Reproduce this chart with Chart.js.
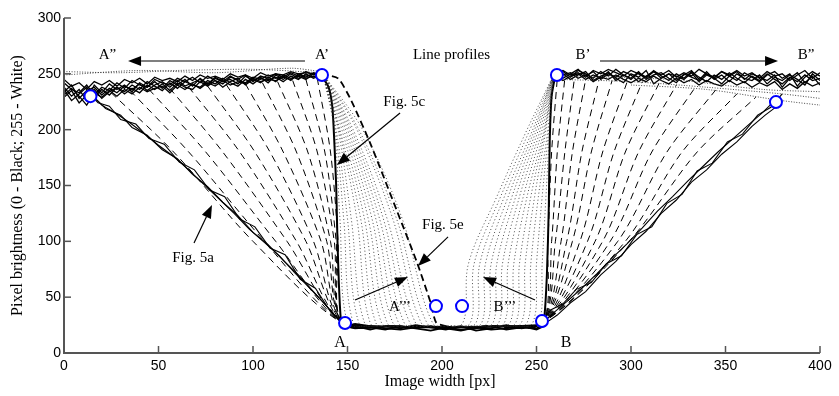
<!DOCTYPE html>
<html lang="en">
<head>
<meta charset="UTF-8">
<title>Line profiles</title>
<script src="https://cdn.jsdelivr.net/npm/chart.js"></script>
<style>body{margin:0;background:#fff}</style>
</head>
<body>
<canvas id="profileChart" width="839" height="396"></canvas>
<script>
// axis ticks
const xTicks = [0, 50, 100, 150, 200, 250, 300, 350, 400];
const yTicks = [0, 50, 100, 150, 200, 250, 300];

// noisy top plateau, left side
const leftBandX = [0,4,8,12,16,20,24,28,32,36,40,44,48,52,56,60,64,68,72,76,80,84,88,92,96,100,104,108,112,116,120,124,128,132,136];
const leftBand1 = [238,230,236,226,240,233,241,236,240,234,242,238,243,237,244,240,245,239,246,241,247,243,245,241,248,244,247,242,249,245,250,246,249,247,250];
const leftBand2 = [242,236,233,240,231,238,235,242,237,244,240,238,245,242,240,246,243,247,242,248,244,241,247,245,249,243,248,246,250,247,251,248,252,249,250];
const leftBand3 = [234,240,228,235,238,231,237,233,239,236,241,235,240,243,238,244,239,242,245,240,246,243,248,244,242,247,245,249,246,248,244,250,247,251,249];
const leftBand4 = [229,235,224,231,236,228,234,238,232,237,233,240,236,241,235,242,238,236,243,239,244,238,243,246,240,245,242,247,243,249,246,248,245,250,248];
const leftBand5 = [245,239,242,236,243,240,244,239,245,242,246,241,247,244,246,243,248,244,249,246,248,245,250,247,249,246,251,248,250,249,252,250,251,250,251];
const leftBand6 = [236,226,232,238,229,236,231,238,234,240,236,243,239,235,242,237,243,240,238,244,241,246,242,239,245,241,246,244,247,243,248,245,250,246,249];
const leftBand7 = [231,237,230,222,233,229,235,230,236,232,238,234,237,239,233,240,236,241,237,242,239,244,240,243,241,246,243,245,244,247,245,249,246,248,247];

// noisy top plateau, right side
const rightBandX = [260,264,268,272,276,280,284,288,292,296,300,304,308,312,316,320,324,328,332,336,340,344,348,352,356,360,364,368,372,376,380,384,388,392,396,400];
const rightBand1 = [249,252,247,253,250,246,252,248,254,249,245,251,247,253,248,244,250,246,252,247,243,249,245,251,246,242,248,244,250,245,241,247,243,249,244,246];
const rightBand2 = [251,246,250,254,248,252,245,250,247,252,249,243,248,252,246,250,244,249,253,245,250,246,252,248,244,251,247,243,249,252,246,250,239,247,252,248];
const rightBand3 = [247,250,245,249,252,244,248,251,246,242,250,247,253,241,246,250,248,245,251,243,249,246,241,248,252,245,250,247,244,249,238,246,251,242,248,240];
const rightBand4 = [250,253,249,251,247,253,250,254,251,248,253,250,246,252,249,253,247,251,248,254,250,247,252,249,253,248,251,246,252,248,250,244,249,253,246,251];
const rightBand5 = [246,249,251,246,249,243,247,245,249,245,242,246,243,248,244,241,246,242,245,240,244,241,239,244,240,243,238,242,239,243,236,241,237,243,239,242];
const rightBand6 = [248,244,248,250,245,249,246,252,244,249,246,252,245,249,251,246,242,250,247,244,252,245,249,243,250,246,244,249,241,247,244,249,245,240,250,244];

// bottom of the groove
const bottomX = [146,154,162,170,178,186,194,202,210,218,226,234,242,250,255];
const bottom1 = [25,22,23,21,24,22,20,23,21,22,24,21,23,22,26];
const bottom2 = [27,24,21,24,22,25,23,21,24,20,22,25,22,24,28];
const bottom3 = [23,26,24,22,21,23,24,22,20,23,21,22,24,21,25];

// Fig. 5a envelopes (widest profiles)
const leftEdge1 = [[14,232],[20,222],[28,214],[35,206],[42,197],[50,186],[58,176],[66,164],[74,151],[82,138],[90,125],[98,111],[106,99],[114,87],[122,72],[130,58],[138,44],[144,32],[148,25]];
const leftEdge2 = [[16,229],[22,219],[30,213],[36,202],[44,195],[52,182],[60,174],[68,160],[76,149],[84,135],[92,123],[100,108],[108,97],[116,83],[124,70],[132,55],[140,40],[146,29]];
const leftEdge3 = [[12,235],[18,224],[24,221],[30,209],[38,205],[45,192],[53,187],[61,171],[69,164],[77,146],[85,140],[93,120],[101,113],[109,94],[117,88],[125,66],[133,58],[141,37],[147,27]];
const rightEdge1 = [[254,28],[259,36],[266,46],[274,58],[282,71],[290,85],[298,98],[306,112],[314,127],[322,140],[330,154],[338,167],[346,180],[354,192],[362,204],[370,216],[376,226]];
const rightEdge2 = [[255,27],[261,34],[268,45],[276,55],[284,70],[292,82],[300,97],[308,109],[316,125],[324,137],[332,153],[340,164],[348,178],[356,189],[364,203],[371,213],[378,222]];
const rightEdge3 = [[253,29],[258,39],[264,44],[271,57],[279,63],[287,80],[295,87],[303,106],[311,113],[319,134],[327,142],[335,163],[343,170],[351,189],[359,196],[367,213],[374,220],[380,232]];

// dashed profiles, left side: top point and x at y=180 / y=100
const leftDashTop = [25,35,45,56,66,76,86,96,105,113,121,128,134];
const leftDashTopY = [233,235,236,237,238,239,240,241,242,243,244,245,246];
const leftDashAt180 = [58,66,75,84,93,101,109,116,123,129,134,138,141];
const leftDashAt100 = [100,106,112,118,123,128,132,136,139,141,143,144,145];

// dashed profiles, right side
const rightDashTop = [261,265,270,276,283,290,298,306,315,324,334,345,356,366];
const rightDashTopY = [246,246,245,245,244,244,243,243,242,240,238,236,232,229];
const rightDashAt180 = [258,261,265,269,274,279,285,291,297,304,311,319,327,335];
const rightDashAt100 = [256,258,260,263,266,269,273,277,281,285,289,293,297,299];

// Fig. 5c (solid) and Fig. 5e (thick dashed)
const solidProfile = [[136,249],[140,238],[142,220],[143,190],[144,150],[144.7,100],[145.5,60],[146.5,30],[148,25],[200,23],[252,25],[254,30],[255.5,70],[256.5,130],[257,190],[258,230],[260,249]];
const fig5eProfile = [[136,250],[145,246],[152,226],[162,188],[176,128],[187,80],[194,45],[197,27],[205,23]];

// dotted profiles, left: bottom x and x at y=200 / y=120
const leftDotBottom = [150,153,156,159,162,165,168,171,174,177,180,183,186,189,192,195];
const leftDotAt200 = [143,143.5,144,145,145.5,146,147,148,149,150,151,152,153,155,156,158];
const leftDotAt120 = [146,148,150,152,155,157,159,161,163,165,167,169,171,174,176,179];

// dotted profiles, right: bottom x and x at y=80 / 140 / 200
const rightDotBottom = [251,248,245,242,239,236,233,230,227,224,221,218,215,211];
const rightDotAt80 = [253,250,247,244,241,238,235,232,229,226,223,220,217,214];
const rightDotAt140 = [255,253,251,249,247,245,243,241,239,237,235,233,231,229];
const rightDotAt200 = [257,256.5,256,255,254.5,254,253,252,251,250,249,248,246.5,245];

// dotted plateau speckle
const leftDotPlateau1 = [[0,252],[30,251],[60,253],[100,254],[136,251]];
const leftDotPlateau2 = [[0,249],[40,253],[80,251],[120,255],[136,252]];
const rightDotPlateau1 = [[262,245],[300,243],[340,238],[380,232],[400,228]];
const rightDotPlateau2 = [[262,248],[320,245],[370,236],[400,234]];
const rightDotPlateau3 = [[300,240],[340,236],[380,226],[400,222]];

// marked points (blue circles)
const markX = [14, 136.5, 260.8, 376.7, 148.7, 252.9, 196.8, 210.6];
const markY = [230, 249, 249, 224.7, 26.9, 28.6, 42, 42];

const pts = arr => arr.map(p => ({x: p[0], y: p[1]}));
const zip = (xs, ys) => xs.map((x, i) => ({x: x, y: ys[i]}));

function lineSet(data, width, dash, color, tension) {
    return {
        data: data, showLine: true, pointRadius: 0, fill: false,
        borderColor: color || '#000', borderWidth: width, borderDash: dash || [],
        tension: tension || 0, order: 1
    };
}

const datasets = [];
datasets.push({
    data: zip(markX, markY), showLine: false, pointRadius: 6, pointStyle: 'circle',
    pointBackgroundColor: '#fff', pointBorderColor: '#0000ff', pointBorderWidth: 2, order: -1
});

// dotted (under)
leftDotBottom.forEach((xb, i) => {
    datasets.push(lineSet(pts([[137,250],[leftDotAt200[i],200],[leftDotAt120[i],120],[xb,27],[xb+12,24]]), 0.8, [1,2.5], '#222', 0.35));
});
rightDotBottom.forEach((xb, i) => {
    datasets.push(lineSet(pts([[xb-12,24],[xb,27],[rightDotAt80[i],80],[rightDotAt140[i],140],[rightDotAt200[i],200],[259,249]]), 0.8, [1,2.5], '#222', 0.35));
});
[leftDotPlateau1, leftDotPlateau2, rightDotPlateau1, rightDotPlateau2, rightDotPlateau3].forEach(p => datasets.push(lineSet(pts(p), 0.9, [1,1.6], '#333', 0.3)));

// dashed fan
leftDashTop.forEach((xt, i) => {
    datasets.push(lineSet(pts([[xt,leftDashTopY[i]],[leftDashAt180[i],180],[leftDashAt100[i],100],[147,27],[175,24],[205,23]]), 1, [7,5], '#000', 0.3));
});
rightDashTop.forEach((xt, i) => {
    datasets.push(lineSet(pts([[195,23],[225,24],[253,27],[rightDashAt100[i],100],[rightDashAt180[i],180],[xt,rightDashTopY[i]]]), 1, [7,5], '#000', 0.3));
});

// envelopes, bands
[leftEdge1, leftEdge2, leftEdge3, rightEdge1, rightEdge2, rightEdge3].forEach(e => datasets.push(lineSet(pts(e), 1.1, [])));
[leftBand1, leftBand2, leftBand3, leftBand4, leftBand5, leftBand6, leftBand7].forEach(b => datasets.push(lineSet(zip(leftBandX, b), 1.3, [])));
[rightBand1, rightBand2, rightBand3, rightBand4, rightBand5, rightBand6].forEach(b => datasets.push(lineSet(zip(rightBandX, b), 1.3, [])));
[bottom1, bottom2, bottom3].forEach(b => datasets.push(lineSet(zip(bottomX, b), 1.8, [])));

datasets.push(lineSet(pts(solidProfile), 2, [], '#000', 0.2));
datasets.push(lineSet(pts(fig5eProfile), 1.8, [7,4], '#000', 0.2));

// labels and arrows, positioned in data units
const labels = [
    {t: 'Line profiles', x: 205, y: 267, size: 15},
    {t: 'A\u201D', x: 23, y: 267, size: 15},
    {t: 'A\u2019', x: 136.5, y: 267, size: 15},
    {t: 'B\u2019', x: 274.6, y: 267, size: 15},
    {t: 'B\u201D', x: 392.6, y: 267, size: 15},
    {t: 'Fig. 5c', x: 180, y: 225, size: 15},
    {t: 'Fig. 5e', x: 200.5, y: 114.6, size: 15},
    {t: 'Fig. 5a', x: 68.3, y: 85, size: 15},
    {t: 'A\u2019\u2019\u2019', x: 177.8, y: 41, size: 15},
    {t: 'B\u2019\u2019\u2019', x: 233.3, y: 41, size: 15},
    {t: 'A', x: 146, y: 9, size: 16},
    {t: 'B', x: 265.6, y: 9, size: 16}
];
const arrows = [
    [127.5, 261.5, 33.9, 261.5],
    [283.6, 261.5, 377.8, 261.5],
    [177.8, 215, 144.4, 168.4],
    [203.2, 104, 187.3, 78],
    [68.8, 98.5, 78.3, 132.5],
    [154, 47.5, 182, 68],
    [249.2, 47.5, 221.7, 68]
];

const decor = {
    id: 'decor',
    afterDraw(chart) {
        const c = chart.ctx, xs = chart.scales.x, ys = chart.scales.y, a = chart.chartArea;
        c.save();
        // axes with inward ticks
        c.strokeStyle = '#555';
        c.lineWidth = 2;
        c.beginPath();
        c.moveTo(a.left, a.top); c.lineTo(a.left, a.bottom); c.lineTo(a.right, a.bottom);
        c.stroke();
        c.lineWidth = 1.5;
        xTicks.forEach(v => { const px = xs.getPixelForValue(v); c.beginPath(); c.moveTo(px, a.bottom); c.lineTo(px, a.bottom - 7); c.stroke(); });
        yTicks.forEach(v => { const py = ys.getPixelForValue(v); c.beginPath(); c.moveTo(a.left, py); c.lineTo(a.left + 7, py); c.stroke(); });
        // axis titles
        c.fillStyle = '#000';
        c.font = "16px 'Liberation Serif'";
        c.textAlign = 'center'; c.textBaseline = 'middle';
        c.fillText('Image width [px]', (a.left + a.right) / 2 - 2, 382);
        c.save();
        c.translate(18, (a.top + a.bottom) / 2);
        c.rotate(-Math.PI / 2);
        c.fillText('Pixel brightness (0 - Black; 255 - White)', 0, 0);
        c.restore();
        // annotations
        labels.forEach(l => {
            c.font = l.size + "px 'Liberation Serif'";
            c.fillText(l.t, xs.getPixelForValue(l.x), ys.getPixelForValue(l.y));
        });
        c.strokeStyle = '#000'; c.fillStyle = '#000'; c.lineWidth = 1.2;
        arrows.forEach(r => {
            const x1 = xs.getPixelForValue(r[0]), y1 = ys.getPixelForValue(r[1]);
            const x2 = xs.getPixelForValue(r[2]), y2 = ys.getPixelForValue(r[3]);
            const ang = Math.atan2(y2 - y1, x2 - x1), hl = 13, hw = 5;
            const bx = x2 - hl * Math.cos(ang), by = y2 - hl * Math.sin(ang);
            c.beginPath(); c.moveTo(x1, y1); c.lineTo(bx, by); c.stroke();
            c.beginPath();
            c.moveTo(x2, y2);
            c.lineTo(bx + hw * Math.sin(ang), by - hw * Math.cos(ang));
            c.lineTo(bx - hw * Math.sin(ang), by + hw * Math.cos(ang));
            c.closePath(); c.fill();
        });
        c.restore();
    }
};

new Chart(document.getElementById('profileChart'), {
    type: 'scatter',
    data: { datasets: datasets },
    options: {
        responsive: false,
        animation: false,
        devicePixelRatio: 1,
        layout: { padding: { left: 0, right: 19, top: 18, bottom: 0 } },
        plugins: { legend: { display: false }, tooltip: { enabled: false } },
        scales: {
            x: {
                min: 0, max: 400,
                afterFit: s => { s.height = 43; },
                afterBuildTicks: s => { s.ticks = xTicks.map(v => ({value: v})); },
                grid: { display: false, tickLength: 0 },
                border: { display: false },
                ticks: { padding: 5, color: '#000', font: { family: 'Liberation Sans', size: 14 }, maxRotation: 0 }
            },
            y: {
                min: 0, max: 300,
                afterFit: s => { s.width = 64; },
                afterBuildTicks: s => { s.ticks = yTicks.map(v => ({value: v})); },
                grid: { display: false, tickLength: 0 },
                border: { display: false },
                ticks: { padding: 3, color: '#000', font: { family: 'Liberation Sans', size: 14 } }
            }
        }
    },
    plugins: [decor]
});
</script>
</body>
</html>
